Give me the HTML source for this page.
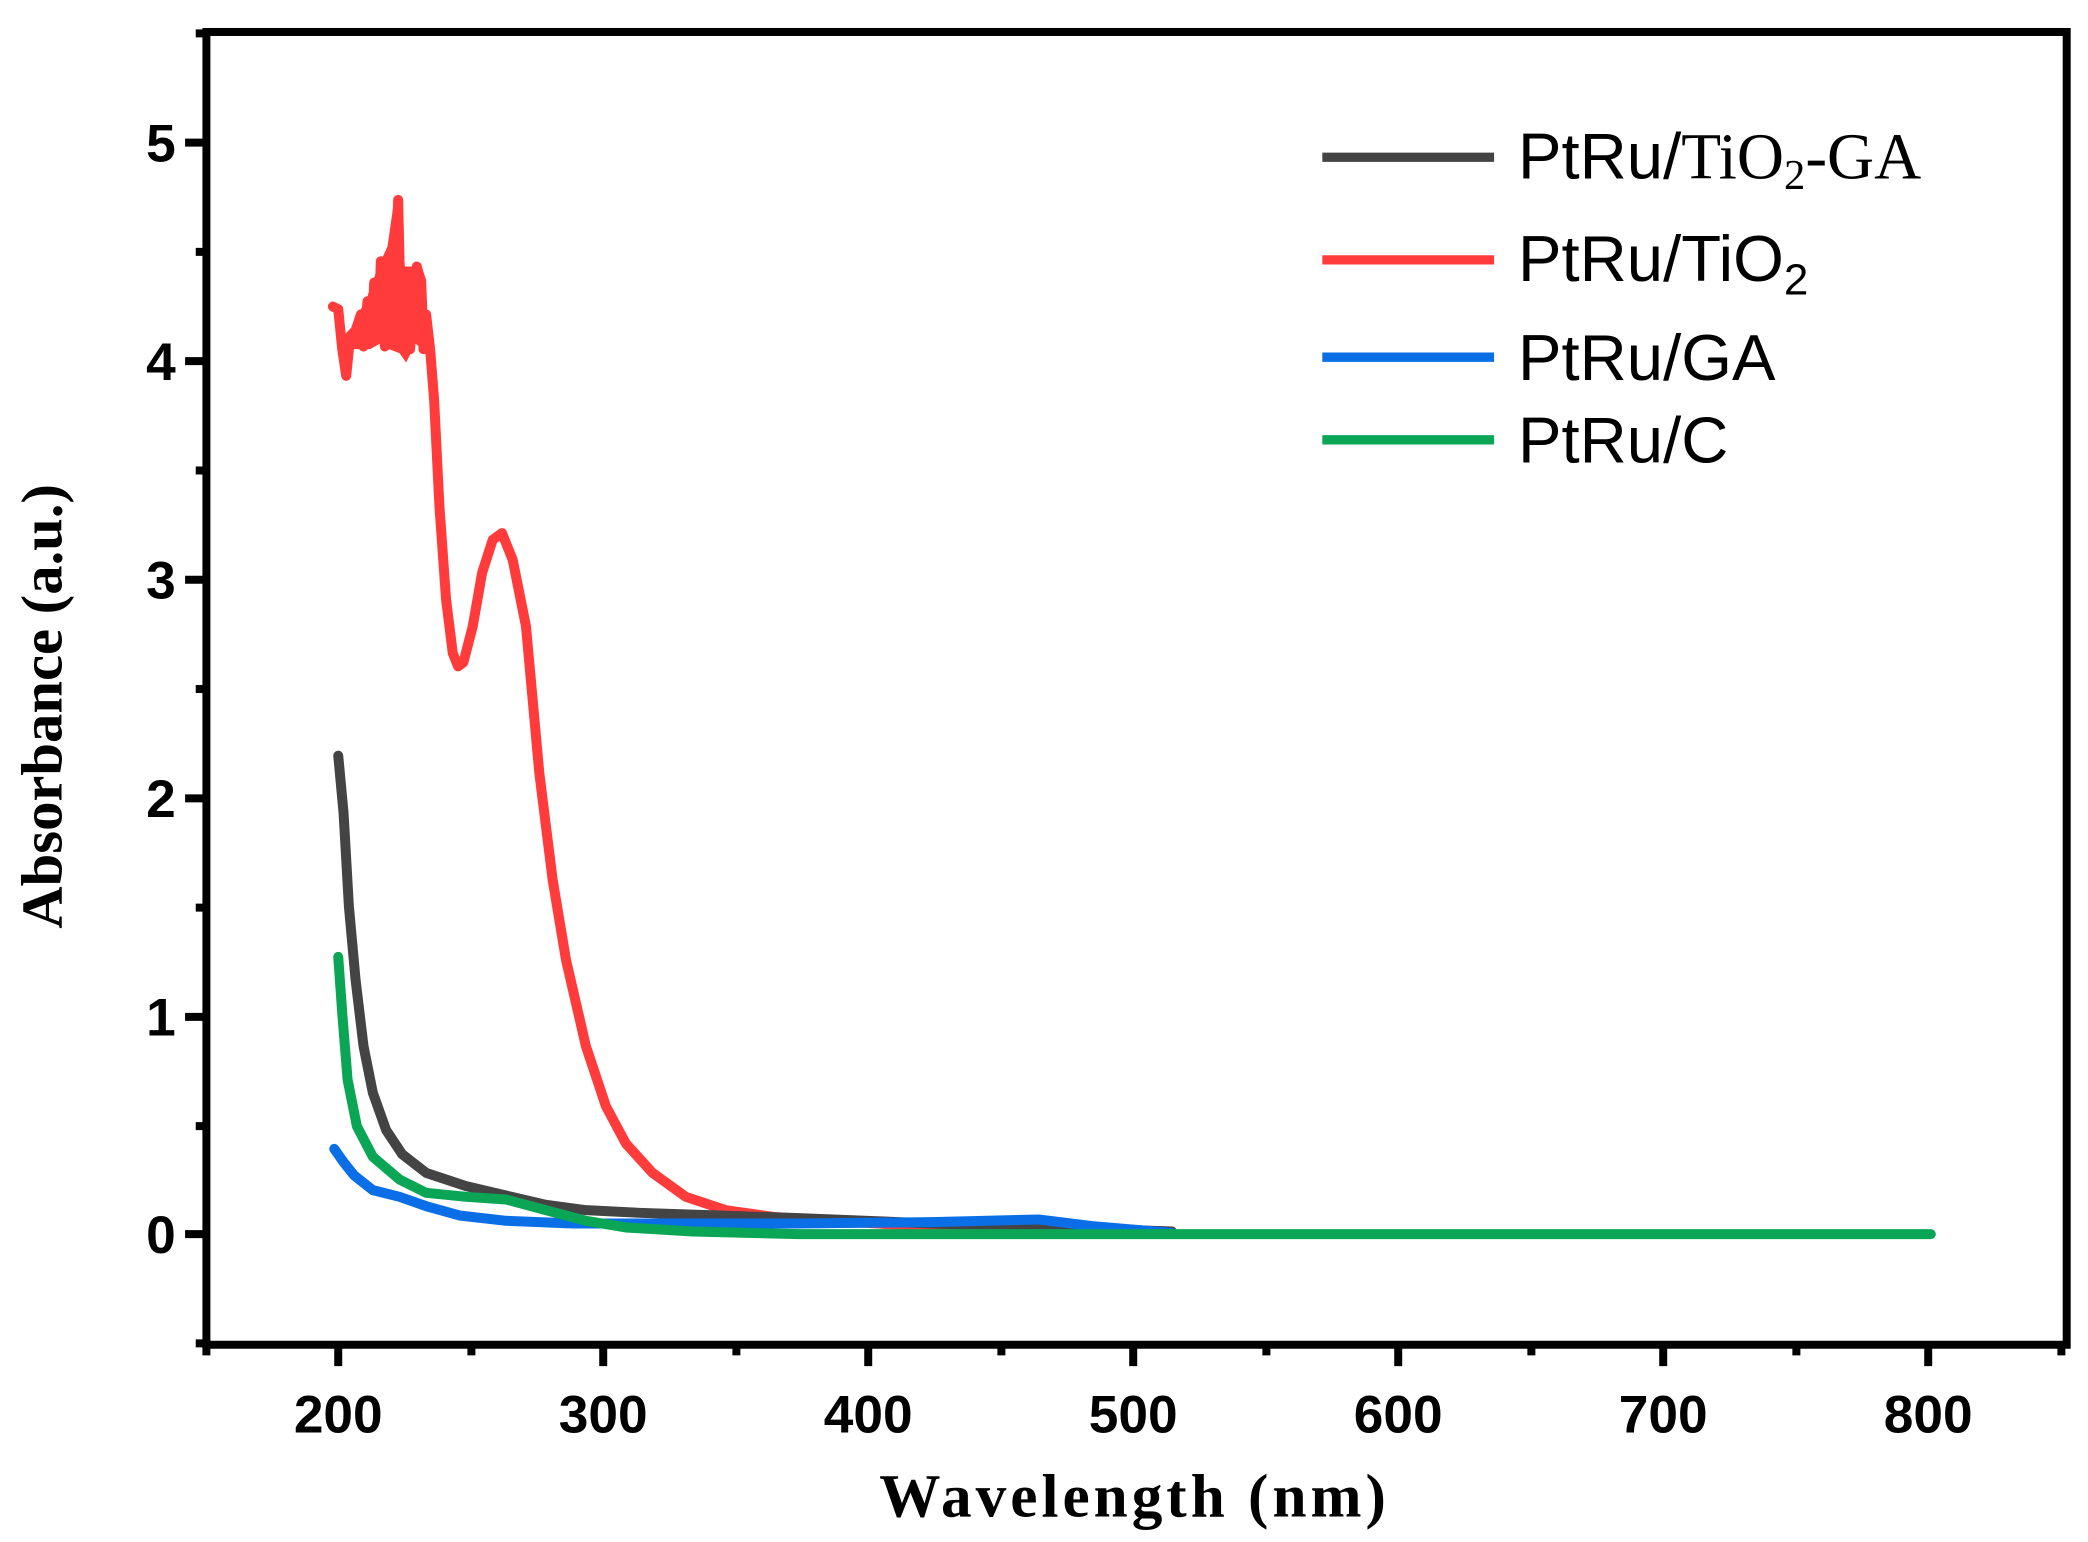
<!DOCTYPE html>
<html><head><meta charset="utf-8"><style>html,body{margin:0;padding:0;background:#fff}svg{display:block}</style></head>
<body>
<svg width="2088" height="1542" viewBox="0 0 1568 1157" preserveAspectRatio="none" xmlns="http://www.w3.org/2000/svg">
<rect width="1568" height="1157" fill="#fff"/>
<path fill="#ff3b3b" d="M262,262 L267,240 L276,222 L284,200 L291,185 L296,150 L301,152 L304,200 L310,200 L316,198 L320,210 L322,262 L318,262 L312,258 L305,272 L300,265 L292,262 L285,258 L278,262 Z"/>
<g fill="none" stroke-linejoin="round" stroke-linecap="round" stroke-width="7.5">
<polyline stroke="#ff3b3b" points="250,230 254,232 257,262 260,282 263,252 267,248 271,236 273,260 276,226 279,256 281,212 284,250 286,196 289,260 291,220 294,188 296,252 299,150 301,240 303,262 306,210 308,262 310,230 313,200 316,212 318,262 320,236 323,262 326,300 330,380 335,450 340,490 344,500 348,497 355,470 362,430 370,405 377,400 385,420 395,470 405,580 415,660 425,720 440,785 455,830 470,858 490,880 515,898 545,908 580,913 620,916 660,918 700,921 780,922 880,924"/>
<polyline stroke="#444" points="254,567 258,610 262,680 267,735 273,785 280,820 290,848 302,866 320,880 350,890 380,897 410,904 440,908 480,910 540,912 600,914 700,918 880,924"/>
<polyline stroke="#0a6ee6" points="251,862 258,872 266,882 280,893 300,898 320,905 345,912 380,916 430,918 600,918 700,917 780,915 820,920 880,925"/>
<polyline stroke="#0aa655" points="254,718 257,760 261,810 268,845 280,868 300,885 320,895 350,898 380,900 410,908 440,916 470,921 520,924 600,926 1450,926"/>
</g>
<g stroke="#000" stroke-width="6" fill="none">
<rect x="155" y="24" width="1397" height="985"/>
<path d="M155,107h-16M155,271h-16M155,435h-16M155,599h-16M155,763h-16M155,926h-16M155,189h-8M155,353h-8M155,517h-8M155,681h-8M155,845h-8M155,1008h-8M155,25h-8"/>
<path d="M254,1009v16M453,1009v16M652,1009v16M851,1009v16M1050,1009v16M1249,1009v16M1448,1009v16M155,1009v8M354,1009v8M553,1009v8M752,1009v8M951,1009v8M1150,1009v8M1349,1009v8M1548,1009v8"/>
</g>
<g font-family="Liberation Sans, sans-serif" font-weight="bold" font-size="40" fill="#000">
<g text-anchor="end"><text x="132" y="121">5</text><text x="132" y="285">4</text><text x="132" y="449">3</text><text x="132" y="613">2</text><text x="132" y="777">1</text><text x="132" y="940">0</text></g>
<g text-anchor="middle"><text x="254" y="1075">200</text><text x="453" y="1075">300</text><text x="652" y="1075">400</text><text x="851" y="1075">500</text><text x="1050" y="1075">600</text><text x="1249" y="1075">700</text><text x="1448" y="1075">800</text></g>
</g>
<text x="852" y="1138" text-anchor="middle" font-family="Liberation Serif, serif" font-weight="bold" font-size="46" letter-spacing="3">Wavelength (nm)</text>
<text transform="translate(46,530) rotate(-90)" text-anchor="middle" font-family="Liberation Serif, serif" font-weight="bold" font-size="44">Absorbance (a.u.)</text>
<g stroke-width="7">
<line x1="993" y1="118" x2="1122" y2="118" stroke="#444"/>
<line x1="993" y1="195" x2="1122" y2="195" stroke="#ff3b3b"/>
<line x1="993" y1="268" x2="1122" y2="268" stroke="#0a6ee6"/>
<line x1="993" y1="330" x2="1122" y2="330" stroke="#0aa655"/>
</g>
<g font-family="Liberation Sans, sans-serif" font-size="49" fill="#000">
<text x="1140" y="134">PtRu/<tspan font-family="Liberation Serif, serif">TiO<tspan font-size="32" dy="8">2</tspan><tspan dy="-8">-GA</tspan></tspan></text>
<text x="1140" y="211">PtRu/TiO<tspan font-size="33" dy="10">2</tspan></text>
<text x="1140" y="285">PtRu/GA</text>
<text x="1140" y="347">PtRu/C</text>
</g>
</svg>
</body></html>
